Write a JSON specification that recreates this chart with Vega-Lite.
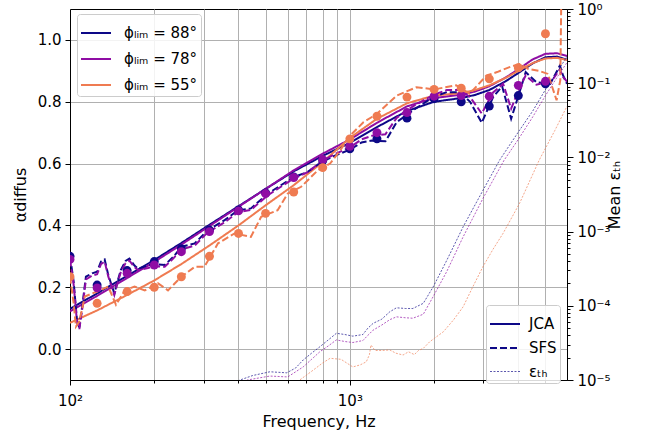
{
  "$schema": "https://vega.github.io/schema/vega-lite/v6.json",
  "width": 497,
  "height": 371,
  "autosize": {"type": "none"},
  "padding": {"left": 70, "top": 9, "right": 84, "bottom": 57},
  "background": "white",
  "config": {
    "font": "DejaVu Sans",
    "view": {"stroke": "black", "strokeWidth": 1},
    "axis": {
      "domainColor": "black", "tickColor": "black", "labelColor": "black", "titleColor": "black",
      "labelFontSize": 15, "titleFontSize": 16, "titleFontWeight": "normal",
      "gridColor": "#b0b0b0", "gridWidth": 1, "labelFlush": false, "labelOverlap": false
    }
  },
  "data": {"values": [
    {"k":"JCA","p":"88","f":100,"a":0.130},{"k":"JCA","p":"88","f":125,"a":0.180},{"k":"JCA","p":"88","f":160,"a":0.237},{"k":"JCA","p":"88","f":200,"a":0.288},{"k":"JCA","p":"88","f":250,"a":0.343},{"k":"JCA","p":"88","f":315,"a":0.402},{"k":"JCA","p":"88","f":400,"a":0.462},{"k":"JCA","p":"88","f":500,"a":0.518},{"k":"JCA","p":"88","f":630,"a":0.575},{"k":"JCA","p":"88","f":800,"a":0.625},{"k":"JCA","p":"88","f":1000,"a":0.667},{"k":"JCA","p":"88","f":1250,"a":0.718},{"k":"JCA","p":"88","f":1600,"a":0.770},{"k":"JCA","p":"88","f":2000,"a":0.800},{"k":"JCA","p":"88","f":2500,"a":0.812},{"k":"JCA","p":"88","f":2800,"a":0.822},{"k":"JCA","p":"88","f":3150,"a":0.838},{"k":"JCA","p":"88","f":3600,"a":0.866},{"k":"JCA","p":"88","f":4000,"a":0.893},{"k":"JCA","p":"88","f":4500,"a":0.924},{"k":"JCA","p":"88","f":5000,"a":0.944},{"k":"JCA","p":"88","f":5500,"a":0.946},{"k":"JCA","p":"88","f":5970,"a":0.936},
    {"k":"JCA","p":"78","f":100,"a":0.122},{"k":"JCA","p":"78","f":125,"a":0.172},{"k":"JCA","p":"78","f":160,"a":0.230},{"k":"JCA","p":"78","f":200,"a":0.282},{"k":"JCA","p":"78","f":250,"a":0.338},{"k":"JCA","p":"78","f":315,"a":0.398},{"k":"JCA","p":"78","f":400,"a":0.460},{"k":"JCA","p":"78","f":500,"a":0.518},{"k":"JCA","p":"78","f":630,"a":0.578},{"k":"JCA","p":"78","f":800,"a":0.632},{"k":"JCA","p":"78","f":1000,"a":0.678},{"k":"JCA","p":"78","f":1250,"a":0.732},{"k":"JCA","p":"78","f":1600,"a":0.785},{"k":"JCA","p":"78","f":2000,"a":0.812},{"k":"JCA","p":"78","f":2500,"a":0.823},{"k":"JCA","p":"78","f":2800,"a":0.833},{"k":"JCA","p":"78","f":3150,"a":0.850},{"k":"JCA","p":"78","f":3600,"a":0.878},{"k":"JCA","p":"78","f":4000,"a":0.905},{"k":"JCA","p":"78","f":4500,"a":0.937},{"k":"JCA","p":"78","f":5000,"a":0.955},{"k":"JCA","p":"78","f":5500,"a":0.957},{"k":"JCA","p":"78","f":5970,"a":0.948},
    {"k":"JCA","p":"55","f":100,"a":0.085},{"k":"JCA","p":"55","f":125,"a":0.125},{"k":"JCA","p":"55","f":160,"a":0.175},{"k":"JCA","p":"55","f":200,"a":0.222},{"k":"JCA","p":"55","f":250,"a":0.275},{"k":"JCA","p":"55","f":315,"a":0.335},{"k":"JCA","p":"55","f":400,"a":0.400},{"k":"JCA","p":"55","f":500,"a":0.465},{"k":"JCA","p":"55","f":630,"a":0.530},{"k":"JCA","p":"55","f":800,"a":0.605},{"k":"JCA","p":"55","f":1000,"a":0.683},{"k":"JCA","p":"55","f":1250,"a":0.745},{"k":"JCA","p":"55","f":1600,"a":0.795},{"k":"JCA","p":"55","f":2000,"a":0.820},{"k":"JCA","p":"55","f":2500,"a":0.828},{"k":"JCA","p":"55","f":2800,"a":0.838},{"k":"JCA","p":"55","f":3150,"a":0.853},{"k":"JCA","p":"55","f":3600,"a":0.877},{"k":"JCA","p":"55","f":4000,"a":0.900},{"k":"JCA","p":"55","f":4500,"a":0.925},{"k":"JCA","p":"55","f":5000,"a":0.940},{"k":"JCA","p":"55","f":5500,"a":0.942},{"k":"JCA","p":"55","f":5970,"a":0.935},

    {"k":"SFS","p":"88","f":100,"a":0.30},{"k":"SFS","p":"88","f":103,"a":0.22},{"k":"SFS","p":"88","f":106,"a":0.09},{"k":"SFS","p":"88","f":108,"a":0.07},{"k":"SFS","p":"88","f":111,"a":0.15},{"k":"SFS","p":"88","f":114,"a":0.234},{"k":"SFS","p":"88","f":120,"a":0.245},{"k":"SFS","p":"88","f":125,"a":0.25},{"k":"SFS","p":"88","f":129,"a":0.283},{"k":"SFS","p":"88","f":133,"a":0.29},{"k":"SFS","p":"88","f":137,"a":0.24},{"k":"SFS","p":"88","f":144,"a":0.18},{"k":"SFS","p":"88","f":148,"a":0.22},{"k":"SFS","p":"88","f":152,"a":0.256},{"k":"SFS","p":"88","f":158,"a":0.285},{"k":"SFS","p":"88","f":163,"a":0.293},{"k":"SFS","p":"88","f":170,"a":0.27},{"k":"SFS","p":"88","f":175,"a":0.26},{"k":"SFS","p":"88","f":190,"a":0.27},{"k":"SFS","p":"88","f":200,"a":0.275},{"k":"SFS","p":"88","f":218,"a":0.272},{"k":"SFS","p":"88","f":235,"a":0.30},{"k":"SFS","p":"88","f":250,"a":0.331},{"k":"SFS","p":"88","f":279,"a":0.342},{"k":"SFS","p":"88","f":311,"a":0.385},{"k":"SFS","p":"88","f":357,"a":0.417},{"k":"SFS","p":"88","f":398,"a":0.449},{"k":"SFS","p":"88","f":443,"a":0.455},{"k":"SFS","p":"88","f":510,"a":0.503},{"k":"SFS","p":"88","f":567,"a":0.53},{"k":"SFS","p":"88","f":634,"a":0.557},{"k":"SFS","p":"88","f":707,"a":0.573},{"k":"SFS","p":"88","f":791,"a":0.605},{"k":"SFS","p":"88","f":880,"a":0.625},{"k":"SFS","p":"88","f":1000,"a":0.645},{"k":"SFS","p":"88","f":1100,"a":0.668},{"k":"SFS","p":"88","f":1200,"a":0.675},{"k":"SFS","p":"88","f":1340,"a":0.672},{"k":"SFS","p":"88","f":1470,"a":0.734},{"k":"SFS","p":"88","f":1680,"a":0.772},{"k":"SFS","p":"88","f":1985,"a":0.815},{"k":"SFS","p":"88","f":2220,"a":0.831},{"k":"SFS","p":"88","f":2470,"a":0.831},{"k":"SFS","p":"88","f":2690,"a":0.80},{"k":"SFS","p":"88","f":2960,"a":0.732},{"k":"SFS","p":"88","f":3250,"a":0.815},{"k":"SFS","p":"88","f":3500,"a":0.85},{"k":"SFS","p":"88","f":3770,"a":0.745},{"k":"SFS","p":"88","f":4040,"a":0.831},{"k":"SFS","p":"88","f":4250,"a":0.896},{"k":"SFS","p":"88","f":4640,"a":0.863},{"k":"SFS","p":"88","f":5200,"a":0.858},{"k":"SFS","p":"88","f":5630,"a":0.917},{"k":"SFS","p":"88","f":5780,"a":0.885},{"k":"SFS","p":"88","f":5970,"a":0.858},
    {"k":"SFS","p":"78","f":100,"a":0.29},{"k":"SFS","p":"78","f":103,"a":0.21},{"k":"SFS","p":"78","f":106,"a":0.085},{"k":"SFS","p":"78","f":108,"a":0.065},{"k":"SFS","p":"78","f":111,"a":0.14},{"k":"SFS","p":"78","f":114,"a":0.225},{"k":"SFS","p":"78","f":120,"a":0.238},{"k":"SFS","p":"78","f":125,"a":0.242},{"k":"SFS","p":"78","f":129,"a":0.275},{"k":"SFS","p":"78","f":133,"a":0.283},{"k":"SFS","p":"78","f":137,"a":0.235},{"k":"SFS","p":"78","f":144,"a":0.175},{"k":"SFS","p":"78","f":148,"a":0.215},{"k":"SFS","p":"78","f":152,"a":0.25},{"k":"SFS","p":"78","f":158,"a":0.278},{"k":"SFS","p":"78","f":163,"a":0.286},{"k":"SFS","p":"78","f":170,"a":0.265},{"k":"SFS","p":"78","f":175,"a":0.255},{"k":"SFS","p":"78","f":190,"a":0.262},{"k":"SFS","p":"78","f":200,"a":0.268},{"k":"SFS","p":"78","f":218,"a":0.266},{"k":"SFS","p":"78","f":235,"a":0.295},{"k":"SFS","p":"78","f":250,"a":0.322},{"k":"SFS","p":"78","f":279,"a":0.335},{"k":"SFS","p":"78","f":311,"a":0.378},{"k":"SFS","p":"78","f":357,"a":0.41},{"k":"SFS","p":"78","f":398,"a":0.443},{"k":"SFS","p":"78","f":443,"a":0.45},{"k":"SFS","p":"78","f":510,"a":0.498},{"k":"SFS","p":"78","f":567,"a":0.525},{"k":"SFS","p":"78","f":634,"a":0.553},{"k":"SFS","p":"78","f":707,"a":0.572},{"k":"SFS","p":"78","f":791,"a":0.607},{"k":"SFS","p":"78","f":880,"a":0.63},{"k":"SFS","p":"78","f":1000,"a":0.652},{"k":"SFS","p":"78","f":1100,"a":0.678},{"k":"SFS","p":"78","f":1200,"a":0.69},{"k":"SFS","p":"78","f":1340,"a":0.695},{"k":"SFS","p":"78","f":1470,"a":0.748},{"k":"SFS","p":"78","f":1680,"a":0.785},{"k":"SFS","p":"78","f":1985,"a":0.822},{"k":"SFS","p":"78","f":2220,"a":0.838},{"k":"SFS","p":"78","f":2470,"a":0.838},{"k":"SFS","p":"78","f":2690,"a":0.815},{"k":"SFS","p":"78","f":2960,"a":0.762},{"k":"SFS","p":"78","f":3250,"a":0.83},{"k":"SFS","p":"78","f":3530,"a":0.858},{"k":"SFS","p":"78","f":3770,"a":0.778},{"k":"SFS","p":"78","f":4040,"a":0.845},{"k":"SFS","p":"78","f":4250,"a":0.885},{"k":"SFS","p":"78","f":4640,"a":0.855},{"k":"SFS","p":"78","f":5000,"a":0.862},{"k":"SFS","p":"78","f":5200,"a":0.86},{"k":"SFS","p":"78","f":5630,"a":0.905},{"k":"SFS","p":"78","f":5780,"a":0.88},{"k":"SFS","p":"78","f":5970,"a":0.865},
    {"k":"SFS","p":"55","f":100,"a":0.234},{"k":"SFS","p":"55","f":103,"a":0.15},{"k":"SFS","p":"55","f":105,"a":0.073},{"k":"SFS","p":"55","f":108,"a":0.09},{"k":"SFS","p":"55","f":113,"a":0.17},{"k":"SFS","p":"55","f":120,"a":0.18},{"k":"SFS","p":"55","f":128,"a":0.19},{"k":"SFS","p":"55","f":137,"a":0.202},{"k":"SFS","p":"55","f":146,"a":0.143},{"k":"SFS","p":"55","f":151,"a":0.165},{"k":"SFS","p":"55","f":157,"a":0.19},{"k":"SFS","p":"55","f":170,"a":0.202},{"k":"SFS","p":"55","f":185,"a":0.19},{"k":"SFS","p":"55","f":206,"a":0.213},{"k":"SFS","p":"55","f":224,"a":0.19},{"k":"SFS","p":"55","f":250,"a":0.234},{"k":"SFS","p":"55","f":279,"a":0.266},{"k":"SFS","p":"55","f":302,"a":0.266},{"k":"SFS","p":"55","f":338,"a":0.342},{"k":"SFS","p":"55","f":387,"a":0.374},{"k":"SFS","p":"55","f":443,"a":0.363},{"k":"SFS","p":"55","f":482,"a":0.428},{"k":"SFS","p":"55","f":552,"a":0.449},{"k":"SFS","p":"55","f":600,"a":0.503},{"k":"SFS","p":"55","f":670,"a":0.525},{"k":"SFS","p":"55","f":768,"a":0.578},{"k":"SFS","p":"55","f":850,"a":0.60},{"k":"SFS","p":"55","f":920,"a":0.64},{"k":"SFS","p":"55","f":1000,"a":0.69},{"k":"SFS","p":"55","f":1120,"a":0.734},{"k":"SFS","p":"55","f":1250,"a":0.761},{"k":"SFS","p":"55","f":1470,"a":0.82},{"k":"SFS","p":"55","f":1730,"a":0.847},{"k":"SFS","p":"55","f":2000,"a":0.84},{"k":"SFS","p":"55","f":2400,"a":0.853},{"k":"SFS","p":"55","f":2680,"a":0.826},{"k":"SFS","p":"55","f":3080,"a":0.885},{"k":"SFS","p":"55","f":3360,"a":0.896},{"k":"SFS","p":"55","f":3720,"a":0.912},{"k":"SFS","p":"55","f":4040,"a":0.922},{"k":"SFS","p":"55","f":4350,"a":0.906},{"k":"SFS","p":"55","f":4750,"a":0.90},{"k":"SFS","p":"55","f":5100,"a":0.89},{"k":"SFS","p":"55","f":5480,"a":0.805},{"k":"SFS","p":"55","f":5650,"a":0.87},{"k":"SFS","p":"55","f":5760,"a":1.5},

    {"k":"pts","p":"88","f":100,"a":0.30},{"k":"pts","p":"88","f":125,"a":0.207},{"k":"pts","p":"88","f":160,"a":0.254},{"k":"pts","p":"88","f":200,"a":0.283},{"k":"pts","p":"88","f":250,"a":0.325},{"k":"pts","p":"88","f":315,"a":0.385},{"k":"pts","p":"88","f":400,"a":0.45},{"k":"pts","p":"88","f":500,"a":0.505},{"k":"pts","p":"88","f":630,"a":0.557},{"k":"pts","p":"88","f":800,"a":0.61},{"k":"pts","p":"88","f":1000,"a":0.648},{"k":"pts","p":"88","f":1250,"a":0.68},{"k":"pts","p":"88","f":1600,"a":0.747},{"k":"pts","p":"88","f":2000,"a":0.81},{"k":"pts","p":"88","f":2500,"a":0.80},{"k":"pts","p":"88","f":3150,"a":0.786},{"k":"pts","p":"88","f":4000,"a":0.82},{"k":"pts","p":"88","f":5000,"a":0.858},
    {"k":"pts","p":"78","f":100,"a":0.29},{"k":"pts","p":"78","f":125,"a":0.198},{"k":"pts","p":"78","f":160,"a":0.245},{"k":"pts","p":"78","f":200,"a":0.272},{"k":"pts","p":"78","f":250,"a":0.315},{"k":"pts","p":"78","f":315,"a":0.38},{"k":"pts","p":"78","f":400,"a":0.447},{"k":"pts","p":"78","f":500,"a":0.503},{"k":"pts","p":"78","f":630,"a":0.555},{"k":"pts","p":"78","f":800,"a":0.613},{"k":"pts","p":"78","f":1000,"a":0.656},{"k":"pts","p":"78","f":1250,"a":0.70},{"k":"pts","p":"78","f":1600,"a":0.765},{"k":"pts","p":"78","f":2000,"a":0.818},{"k":"pts","p":"78","f":2500,"a":0.82},{"k":"pts","p":"78","f":3150,"a":0.818},{"k":"pts","p":"78","f":4000,"a":0.853},{"k":"pts","p":"78","f":5000,"a":0.866},
    {"k":"pts","p":"55","f":100,"a":0.234},{"k":"pts","p":"55","f":125,"a":0.148},{"k":"pts","p":"55","f":160,"a":0.186},{"k":"pts","p":"55","f":200,"a":0.20},{"k":"pts","p":"55","f":250,"a":0.234},{"k":"pts","p":"55","f":315,"a":0.30},{"k":"pts","p":"55","f":400,"a":0.374},{"k":"pts","p":"55","f":500,"a":0.439},{"k":"pts","p":"55","f":630,"a":0.508},{"k":"pts","p":"55","f":800,"a":0.587},{"k":"pts","p":"55","f":1000,"a":0.68},{"k":"pts","p":"55","f":1250,"a":0.753},{"k":"pts","p":"55","f":1600,"a":0.815},{"k":"pts","p":"55","f":2000,"a":0.84},{"k":"pts","p":"55","f":2500,"a":0.844},{"k":"pts","p":"55","f":3150,"a":0.874},{"k":"pts","p":"55","f":4000,"a":0.91},{"k":"pts","p":"55","f":5000,"a":1.02},

    {"k":"eps","p":"88","f":380,"e":8.5e-6},{"k":"eps","p":"88","f":405,"e":1e-5},{"k":"eps","p":"88","f":450,"e":1.15e-5},{"k":"eps","p":"88","f":518,"e":1.29e-5},{"k":"eps","p":"88","f":595,"e":1.25e-5},{"k":"eps","p":"88","f":640,"e":1.45e-5},{"k":"eps","p":"88","f":681,"e":1.86e-5},{"k":"eps","p":"88","f":730,"e":2.3e-5},{"k":"eps","p":"88","f":781,"e":2.8e-5},{"k":"eps","p":"88","f":840,"e":3.5e-5},{"k":"eps","p":"88","f":895,"e":4.26e-5},{"k":"eps","p":"88","f":960,"e":4.1e-5},{"k":"eps","p":"88","f":1025,"e":3.9e-5},{"k":"eps","p":"88","f":1113,"e":4.1e-5},{"k":"eps","p":"88","f":1160,"e":5.0e-5},{"k":"eps","p":"88","f":1211,"e":5.8e-5},{"k":"eps","p":"88","f":1300,"e":6.6e-5},{"k":"eps","p":"88","f":1389,"e":8.3e-5},{"k":"eps","p":"88","f":1467,"e":9.4e-5},{"k":"eps","p":"88","f":1580,"e":9.2e-5},{"k":"eps","p":"88","f":1680,"e":9.2e-5},{"k":"eps","p":"88","f":1830,"e":1.08e-4},{"k":"eps","p":"88","f":1985,"e":1.8e-4},{"k":"eps","p":"88","f":2220,"e":4.1e-4},{"k":"eps","p":"88","f":2540,"e":1.16e-3},{"k":"eps","p":"88","f":2990,"e":3.6e-3},{"k":"eps","p":"88","f":3430,"e":9.2e-3},{"k":"eps","p":"88","f":4000,"e":2.2e-2},{"k":"eps","p":"88","f":4500,"e":4.2e-2},{"k":"eps","p":"88","f":5000,"e":8.2e-2},{"k":"eps","p":"88","f":5500,"e":0.14},{"k":"eps","p":"88","f":5970,"e":0.23},
    {"k":"eps","p":"78","f":410,"e":8.5e-6},{"k":"eps","p":"78","f":430,"e":1e-5},{"k":"eps","p":"78","f":518,"e":1.13e-5},{"k":"eps","p":"78","f":600,"e":1.1e-5},{"k":"eps","p":"78","f":681,"e":1.5e-5},{"k":"eps","p":"78","f":730,"e":1.9e-5},{"k":"eps","p":"78","f":781,"e":2.4e-5},{"k":"eps","p":"78","f":840,"e":2.9e-5},{"k":"eps","p":"78","f":895,"e":3.47e-5},{"k":"eps","p":"78","f":960,"e":3.3e-5},{"k":"eps","p":"78","f":1025,"e":3.2e-5},{"k":"eps","p":"78","f":1113,"e":3.4e-5},{"k":"eps","p":"78","f":1160,"e":4.0e-5},{"k":"eps","p":"78","f":1211,"e":4.7e-5},{"k":"eps","p":"78","f":1300,"e":5.5e-5},{"k":"eps","p":"78","f":1389,"e":6.5e-5},{"k":"eps","p":"78","f":1467,"e":7.1e-5},{"k":"eps","p":"78","f":1580,"e":6.9e-5},{"k":"eps","p":"78","f":1680,"e":6.8e-5},{"k":"eps","p":"78","f":1830,"e":7.7e-5},{"k":"eps","p":"78","f":1985,"e":1.33e-4},{"k":"eps","p":"78","f":2220,"e":2.9e-4},{"k":"eps","p":"78","f":2540,"e":8.5e-4},{"k":"eps","p":"78","f":2990,"e":2.8e-3},{"k":"eps","p":"78","f":3560,"e":9.2e-3},{"k":"eps","p":"78","f":4000,"e":1.75e-2},{"k":"eps","p":"78","f":4500,"e":3.5e-2},{"k":"eps","p":"78","f":5000,"e":6.8e-2},{"k":"eps","p":"78","f":5500,"e":0.12},{"k":"eps","p":"78","f":5970,"e":0.19},
    {"k":"eps","p":"55","f":640,"e":8.5e-6},{"k":"eps","p":"55","f":662,"e":1e-5},{"k":"eps","p":"55","f":740,"e":1.36e-5},{"k":"eps","p":"55","f":800,"e":1.7e-5},{"k":"eps","p":"55","f":850,"e":1.96e-5},{"k":"eps","p":"55","f":930,"e":1.9e-5},{"k":"eps","p":"55","f":1025,"e":1.5e-5},{"k":"eps","p":"55","f":1090,"e":1.6e-5},{"k":"eps","p":"55","f":1145,"e":1.76e-5},{"k":"eps","p":"55","f":1175,"e":2.2e-5},{"k":"eps","p":"55","f":1190,"e":2.96e-5},{"k":"eps","p":"55","f":1230,"e":2.5e-5},{"k":"eps","p":"55","f":1300,"e":2.5e-5},{"k":"eps","p":"55","f":1389,"e":2.54e-5},{"k":"eps","p":"55","f":1460,"e":2.3e-5},{"k":"eps","p":"55","f":1549,"e":2.17e-5},{"k":"eps","p":"55","f":1620,"e":2.4e-5},{"k":"eps","p":"55","f":1700,"e":2.2e-5},{"k":"eps","p":"55","f":1760,"e":2.5e-5},{"k":"eps","p":"55","f":1830,"e":2.67e-5},{"k":"eps","p":"55","f":1930,"e":3.28e-5},{"k":"eps","p":"55","f":2160,"e":4.48e-5},{"k":"eps","p":"55","f":2350,"e":6.5e-5},{"k":"eps","p":"55","f":2540,"e":9.7e-5},{"k":"eps","p":"55","f":2750,"e":1.8e-4},{"k":"eps","p":"55","f":2990,"e":3.37e-4},{"k":"eps","p":"55","f":3250,"e":5.8e-4},{"k":"eps","p":"55","f":3530,"e":9.5e-4},{"k":"eps","p":"55","f":4040,"e":2.4e-3},{"k":"eps","p":"55","f":4750,"e":9.2e-3},{"k":"eps","p":"55","f":5400,"e":2.3e-2},{"k":"eps","p":"55","f":5970,"e":4.9e-2}
  ]},
  "encoding": {
    "x": {
      "field": "f", "type": "quantitative",
      "scale": {"type": "log", "domain": [100, 5970], "nice": false},
      "axis": {
        "title": "Frequency, Hz",
        "values": [100,200,300,400,500,600,700,800,900,1000,2000,3000,4000,5000],
        "labelExpr": "datum.value == 100 ? '10²' : (datum.value == 1000 ? '10³' : '')",
        "tickSize": {"condition": {"test": "datum.value == 100 || datum.value == 1000", "value": 5}, "value": 3},
        "labelPadding": 8, "titlePadding": 5, "grid": true
      }
    },
    "color": {
      "field": "p", "type": "nominal",
      "scale": {"domain": ["88","78","55"], "range": ["#0d0887","#8f0da4","#ef7b51"]},
      "legend": {
        "orient": "none", "legendX": 7, "legendY": 5, "title": null,
        "symbolType": "stroke", "symbolSize": 900, "symbolStrokeWidth": 2,
        "labelFontSize": 15, "labelOffset": 12, "rowPadding": 2, "padding": 3,
        "fillColor": "rgba(255,255,255,0.85)", "strokeColor": "#cccccc", "cornerRadius": 3,
        "labelExpr": "'ϕₗᵢₘ = ' + datum.label + '°'"
      }
    },
    "strokeDash": {
      "field": "k", "type": "nominal",
      "scale": {"domain": ["JCA","SFS","eps"], "range": [[1,0],[7,3],[2,1.5]]},
      "legend": {
        "orient": "none", "legendX": 416, "legendY": 296, "title": null,
        "symbolType": "stroke", "symbolSize": 900, "symbolStrokeColor": "#0d0887",
        "labelFontSize": 15, "labelOffset": 8, "rowPadding": -6, "padding": 3,
        "fillColor": "rgba(255,255,255,0.85)", "strokeColor": "#cccccc", "cornerRadius": 3,
        "labelExpr": "datum.label == 'eps' ? 'εₜₕ' : datum.label"
      }
    },
    "strokeWidth": {
      "field": "k", "type": "nominal",
      "scale": {"type": "ordinal", "domain": ["JCA","SFS","eps"], "range": [2, 2, 0.9]}
    },
    "opacity": {
      "field": "k", "type": "nominal",
      "scale": {"type": "ordinal", "domain": ["JCA","SFS","eps"], "range": [1, 1, 0.75]}
    }
  },
  "layer": [
    {
      "encoding": {
        "y": {
          "field": "a", "type": "quantitative",
          "scale": {"domain": [-0.1, 1.1], "nice": false, "zero": false},
          "axis": {
            "title": "αdiffus", "values": [0, 0.2, 0.4, 0.6, 0.8, 1.0], "format": ".1f",
            "grid": true, "tickSize": 5, "labelPadding": 4, "titlePadding": 9
          }
        }
      },
      "layer": [
        {
          "transform": [{"filter": "datum.k == 'JCA' || datum.k == 'SFS'"}],
          "mark": {"type": "line", "clip": true}
        },
        {
          "transform": [{"filter": "datum.k == 'pts'"}],
          "mark": {"type": "circle", "size": 80, "opacity": 1, "clip": true},
          "encoding": {"strokeDash": {"value": [1,0]}, "strokeWidth": {"value": 0}, "opacity": {"value": 1}}
        }
      ]
    },
    {
      "transform": [{"filter": "datum.k == 'eps'"}],
      "mark": {"type": "line", "clip": true},
      "encoding": {
        "y": {
          "field": "e", "type": "quantitative",
          "scale": {"type": "log", "domain": [1e-5, 1], "nice": false},
          "axis": {
            "orient": "right", "title": "Mean εₜₕ", "titleAngle": 270, "grid": false,
            "values": [1e-5,2e-5,3e-5,4e-5,5e-5,6e-5,7e-5,8e-5,9e-5,1e-4,2e-4,3e-4,4e-4,5e-4,6e-4,7e-4,8e-4,9e-4,1e-3,2e-3,3e-3,4e-3,5e-3,6e-3,7e-3,8e-3,9e-3,0.01,0.02,0.03,0.04,0.05,0.06,0.07,0.08,0.09,0.1,0.2,0.3,0.4,0.5,0.6,0.7,0.8,0.9,1],
            "labelExpr": "abs(log(datum.value)/LN10 - round(log(datum.value)/LN10)) < 0.001 ? ['10⁻⁵','10⁻⁴','10⁻³','10⁻²','10⁻¹','10⁰'][round(log(datum.value)/LN10)+5] : ''",
            "tickSize": {"condition": {"test": "abs(log(datum.value)/LN10 - round(log(datum.value)/LN10)) < 0.001", "value": 6}, "value": 3},
            "labelPadding": 4, "titlePadding": 12
          }
        }
      }
    }
  ],
  "resolve": {"scale": {"y": "independent"}}
}
